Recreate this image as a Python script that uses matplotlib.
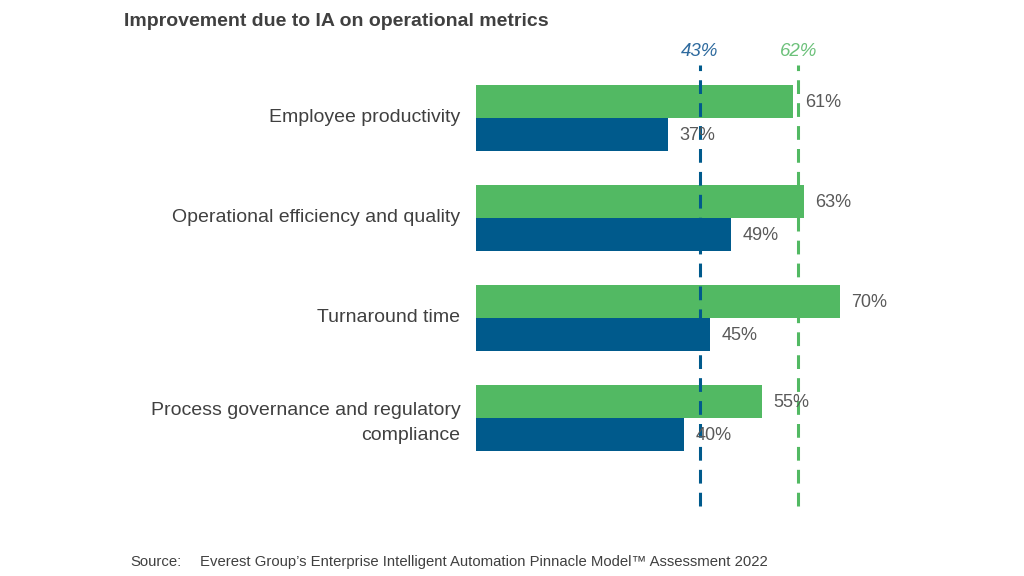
import matplotlib.pyplot as plt

plt.rcParams['font.family'] = ['Liberation Sans', 'DejaVu Sans']

categories = ["Employee productivity", "Operational efficiency and quality",
              "Turnaround time", "Process governance and regulatory\ncompliance"]
green_vals = [61, 63, 70, 55]
blue_vals = [37, 49, 45, 40]
avg_green = 62
avg_blue = 43

green = '#52B963'
blue = '#005A8C'
grey = '#595959'

W, H = 1024, 576
fig = plt.figure(figsize=(W / 100, H / 100), dpi=100)
# axes: x 0 at px 476, 100% at px 996; y top px 60, bottom px 510
ax = fig.add_axes([476 / W, 1 - 510 / H, 520 / W, 450 / H])
ax.set_xlim(0, 100)
ax.set_ylim(3.92, -0.58)
ax.axis('off')

h = 0.33
ys = range(len(categories))
for i in ys:
    ax.barh(i - h / 2, green_vals[i], height=h, color=green, zorder=2)
    ax.barh(i + h / 2, blue_vals[i], height=h, color=blue, zorder=2)
    ax.text(green_vals[i] + 2.2, i - h / 2 + 0.01, f"{green_vals[i]}%", va='center', ha='left',
            fontsize=13, color=grey, zorder=4)
    ax.text(blue_vals[i] + 2.2, i + h / 2 + 0.01, f"{blue_vals[i]}%", va='center', ha='left',
            fontsize=13, color=grey, zorder=4)
    dy = 0.05 if '\n' in categories[i] else 0
    ax.text(-3, i + dy, categories[i], va='center', ha='right', fontsize=14,
            color='#404040', linespacing=1.6)

ax.axvline(avg_blue, ymin=0.01, ymax=0.99, color=blue, ls=(0, (4.5, 3)), lw=2.2, zorder=3)
ax.axvline(avg_green, ymin=0.01, ymax=0.99, color=green, ls=(0, (4.5, 3)), lw=2.2, zorder=3)
ax.text(avg_blue, -0.58, f"{avg_blue}%", ha='center', va='bottom', fontsize=13.5,
        style='italic', color='#2E6A9E')
ax.text(avg_green, -0.58, f"{avg_green}%", ha='center', va='bottom', fontsize=13.5,
        style='italic', color='#6CC17A')

fig.text(124 / W, 1 - 22 / H, "Improvement due to IA on operational metrics",
         fontsize=14, fontweight='bold', color='#404040', va='center', ha='left')
fig.text(130 / W, 1 - 562 / H, "Source:", fontsize=10.75, color='#404040', va='center')
fig.text(200 / W, 1 - 562 / H,
         "Everest Group\u2019s Enterprise Intelligent Automation Pinnacle Model\u2122 Assessment 2022",
         fontsize=10.75, color='#404040', va='center')

fig.savefig('out.png', dpi=100)
